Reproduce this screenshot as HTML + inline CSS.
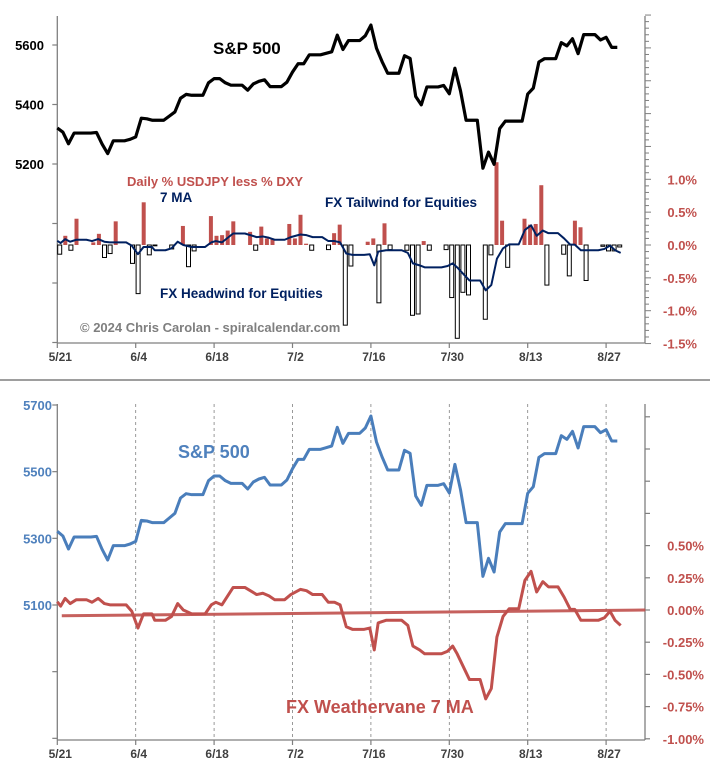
<!DOCTYPE html>
<html><head><meta charset="utf-8"><style>
html,body{margin:0;padding:0;background:#fff}
svg{display:block;font-family:"Liberation Sans",sans-serif}
</style></head><body>
<svg id="chart" width="710" height="777" viewBox="0 0 710 777">
<rect width="710" height="777" fill="#fff"/>
<g id="topPanel"></g><g id="botPanel"></g>
<line x1="0" y1="380" x2="710" y2="380" stroke="#7f7f7f" stroke-width="1.5"/>
<text x="213" y="54" font-size="17" font-weight="bold" fill="#000">S&amp;P 500</text>
<text x="127" y="186" font-size="13" font-weight="bold" fill="#c0504d">Daily % USDJPY less % DXY</text>
<text x="160" y="202" font-size="13.5" font-weight="bold" fill="#002060">7 MA</text>
<text x="325" y="207" font-size="13.5" font-weight="bold" fill="#002060">FX Tailwind for Equities</text>
<text x="160" y="298" font-size="13.5" font-weight="bold" fill="#002060">FX Headwind for Equities</text>
<text x="80" y="332" font-size="13" font-weight="bold" fill="#7f7f7f">© 2024 Chris Carolan - spiralcalendar.com</text>
<text x="178" y="458" font-size="18" font-weight="bold" fill="#4f81bd">S&amp;P 500</text>
<text x="286" y="713" font-size="18" font-weight="bold" fill="#c0504d">FX Weathervane 7 MA</text>
</svg>
<script>
const spxDays=[0,1,2,3,7,8,9,10,13,14,15,16,17,20,21,22,23,24,27,28,30,31,34,35,36,37,38,41,42,43,45,48,49,50,51,52,55,56,57,58,59,62,63,64,65,66,69,70,71,72,73,76,77,78,79,80,83,84,85,86,87,90,91,92,93,94,97,98,99,100];
const spxVals=[5321,5307,5268,5304,5306,5267,5235,5278,5283,5291,5354,5352,5347,5361,5375,5421,5434,5431,5473,5487,5473,5465,5448,5469,5478,5483,5460,5475,5509,5537,5567,5572,5577,5633,5585,5615,5631,5667,5589,5544,5505,5564,5555,5427,5399,5459,5464,5436,5522,5446,5347,5186,5240,5199,5319,5344,5344,5435,5455,5543,5554,5608,5597,5621,5571,5635,5617,5626,5592,5592];
const barDays=[0,1,2,3,6,7,8,9,10,13,14,15,16,17,20,22,23,24,27,28,29,30,31,34,35,36,37,38,41,42,43,44,45,48,49,50,51,52,55,56,57,58,59,62,63,64,65,66,69,70,71,72,73,76,77,78,79,80,83,84,85,86,87,90,91,92,93,94,97,98,99,100];
const barVals=[-0.14,0.14,-0.08,0.40,0.04,0.17,-0.19,-0.13,0.36,-0.28,-0.74,0.65,-0.15,-0.01,-0.06,0.29,-0.33,-0.09,0.44,0.14,0.15,0.22,0.36,0.20,-0.08,0.28,0.10,0.10,0.32,0.10,0.46,0.02,-0.08,-0.07,0.18,0.31,-1.22,-0.32,0.05,0.10,-0.88,0.33,-0.07,-0.08,-1.07,-1.05,0.06,-0.08,-0.07,-0.80,-1.42,-0.72,-0.76,-1.13,-0.15,1.26,0.37,-0.34,0.40,0.31,0.32,0.91,-0.61,-0.14,-0.47,0.37,0.27,-0.54,-0.02,-0.09,-0.09,-0.03];
const maDays=[0,0.6,1.4,2.3,3.4,5.2,6.2,7.3,8.4,9.4,12.3,13.3,14.4,15.4,16.9,17.4,19.3,20.4,21.5,22.5,24,26.4,27.5,28.3,29.4,31.4,33.5,35.6,36.7,37.8,38.8,40.6,41.7,43.4,44.5,45.6,47.3,48.4,49.5,50.5,51.6,52.7,54.8,55.8,56.6,57.3,58.7,61.5,62.6,63.5,64.7,65.6,68.6,69.7,70.6,71.4,72.5,73.6,75.5,76.5,77.5,78.5,79.6,80.7,82.4,83.5,84.6,85.6,86.7,87.7,89.4,90.5,91.6,92.4,93.5,96.6,97.7,98.7,99.6,100.6];
const maVals=[0.064,0.03,0.09,0.05,0.08,0.08,0.06,0.09,0.05,0.04,0.04,-0.01,-0.14,-0.03,-0.03,-0.08,-0.08,-0.05,0.05,0,-0.03,-0.03,0.04,0.06,0.04,0.175,0.175,0.12,0.13,0.11,0.08,0.08,0.12,0.16,0.15,0.12,0.12,0.06,0.06,0.04,-0.13,-0.15,-0.15,-0.14,-0.31,-0.10,-0.08,-0.08,-0.12,-0.28,-0.31,-0.34,-0.34,-0.32,-0.28,-0.34,-0.44,-0.54,-0.54,-0.69,-0.61,-0.21,-0.05,0.01,0.01,0.23,0.30,0.14,0.22,0.18,0.18,0.10,0.005,0.005,-0.08,-0.08,-0.06,-0.01,-0.08,-0.12];
const trendDays=[0.8,105];
const trendVals=[-0.045,0.0];
const xTickDays=[0,14,28,42,56,70,84,98];
const xTickLabels=["5/21","6/4","6/18","7/2","7/16","7/30","8/13","8/27"];
const topLeftTicks=[5600,5400,5200,5000,4800,4600];
const topLeftLabels=["5600","5400","5200"];
const topRightTicks=[1.0,0.5,0.0,-0.5,-1.0,-1.5];
const topRightLabels=["1.0%","0.5%","0.0%","-0.5%","-1.0%","-1.5%"];
const botLeftTicks=[5700,5500,5300,5100,4900,4700];
const botLeftLabels=["5700","5500","5300","5100"];
const botRightTicks=[1.5,1.25,1.0,0.75,0.5,0.25,0,-0.25,-0.5,-0.75,-1.0];
const botRightLabels=["0.50%","0.25%","0.00%","-0.25%","-0.50%","-0.75%","-1.00%"];
const botRightLabelVals=[0.5,0.25,0,-0.25,-0.5,-0.75,-1.0];

const NS="http://www.w3.org/2000/svg";
const X0=57.3,XR=645,DX=5.6;
const xD=d=>X0+d*DX;
const yTL=v=>45+(5600-v)*0.2975;
const yTR=p=>245-p*65.7;
const yBL=v=>405+(5700-v)/3;
const yBR=p=>610-p*128.8;
function el(parent,tag,attrs){const e=document.createElementNS(NS,tag);for(const k in attrs)e.setAttribute(k,attrs[k]);parent.appendChild(e);return e;}
function txt(parent,x,y,s,attrs){const t=el(parent,'text',Object.assign({x:x,y:y},attrs));t.textContent=s;return t;}
function stepPath(days,vals,fx,fy){let d='M'+fx(days[0])+','+fy(vals[0]);for(let i=1;i<days.length;i++){if(days[i]-days[i-1]>1){d+=' L'+fx(days[i]-1)+','+fy(vals[i-1]);}d+=' L'+fx(days[i])+','+fy(vals[i]);}return d;}
function linePath(days,vals,fx,fy){return days.map((d,i)=>(i?'L':'M')+fx(d)+','+fy(vals[i])).join(' ');}

const gTop=document.getElementById('topPanel'), gBot=document.getElementById('botPanel');

function axes(g,yTop,yBot,prefix){
  const a=el(g,'line',{x1:X0,y1:yTop,x2:X0,y2:yBot,stroke:'#7f7f7f','stroke-width':1.3});
  
  
  const b=el(g,'line',{x1:X0,y1:yBot,x2:XR,y2:yBot,stroke:'#7f7f7f','stroke-width':1.3});
  
  
  const c=el(g,'line',{x1:XR,y1:yTop,x2:XR,y2:yBot,stroke:'#7f7f7f','stroke-width':1.3});
  
  
  xTickDays.forEach((d,i)=>{
    el(g,'line',{x1:xD(d),y1:yBot,x2:xD(d),y2:yBot+5,stroke:'#7f7f7f','stroke-width':1.2});
    const t=txt(g,xD(d)+3,yBot+18,xTickLabels[i],{'font-size':12,'font-weight':'bold',fill:'#404040','text-anchor':'middle'});
    
    
  });
}
axes(gTop,16,343,'top');
axes(gBot,404,740,'bottom');

topLeftTicks.forEach(v=>el(gTop,'line',{x1:X0-5,y1:yTL(v),x2:X0,y2:yTL(v),stroke:'#7f7f7f','stroke-width':1.2}));
topLeftLabels.forEach(s=>{const t=txt(gTop,44,yTL(+s)+5,s,{'font-size':13,'font-weight':'bold',fill:'#000','text-anchor':'end'});
  
  });
for(let p=-1.5;p<=3.5001;p+=0.1){el(gTop,'line',{x1:XR,y1:yTR(p),x2:XR+(Math.abs(p*2-Math.round(p*2))<0.01?6:4),y2:yTR(p),stroke:'#7f7f7f','stroke-width':1});}
topRightTicks.forEach((p,i)=>{const t=txt(gTop,697,yTR(p)+5,topRightLabels[i],{'font-size':13,'font-weight':'bold',fill:'#c0504d','text-anchor':'end'});
  
  });

barDays.forEach((d,i)=>{
  const v=barVals[i], y0=yTR(0), y1=yTR(v);
  const r=el(gTop,'rect',{x:xD(d)+0.4,y:Math.min(y0,y1),width:4,height:Math.max(0.8,Math.abs(y1-y0)),fill:v>=0?'#c0504d':'#fff',stroke:v>=0?'none':'#000','stroke-width':1});
  
  
});
const ma1=el(gTop,'path',{d:linePath(maDays,maVals,xD,yTR),fill:'none',stroke:'#002060','stroke-width':2,'stroke-linejoin':'round'});


const s1=el(gTop,'path',{d:stepPath(spxDays,spxVals,xD,yTL),fill:'none',stroke:'#000','stroke-width':3.2,'stroke-linejoin':'round'});



xTickDays.slice(1).forEach(d=>{const l=el(gBot,'line',{x1:xD(d),y1:404,x2:xD(d),y2:740,stroke:'#808080','stroke-width':0.8,'stroke-dasharray':'3,3'});
  
  });
botLeftTicks.forEach(v=>el(gBot,'line',{x1:X0-5,y1:yBL(v),x2:X0,y2:yBL(v),stroke:'#7f7f7f','stroke-width':1.2}));
botLeftLabels.forEach(s=>{const t=txt(gBot,52,yBL(+s)+5,s,{'font-size':13,'font-weight':'bold',fill:'#4f81bd','text-anchor':'end'});
  
  });
botRightTicks.forEach(p=>el(gBot,'line',{x1:XR,y1:yBR(p),x2:XR+5,y2:yBR(p),stroke:'#7f7f7f','stroke-width':1.2}));
botRightLabelVals.forEach((p,i)=>{const t=txt(gBot,704,yBR(p)+5,botRightLabels[i],{'font-size':13,'font-weight':'bold',fill:'#c0504d','text-anchor':'end'});
  
  });
const tr=el(gBot,'path',{d:linePath(trendDays,trendVals,xD,yBR),fill:'none',stroke:'#c0504d','stroke-width':3,opacity:0.9});


const ma2=el(gBot,'path',{d:linePath(maDays,maVals,xD,yBR),fill:'none',stroke:'#c0504d','stroke-width':3,'stroke-linejoin':'round'});


const s2=el(gBot,'path',{d:stepPath(spxDays,spxVals,xD,yBL),fill:'none',stroke:'#4a7ebb','stroke-width':3,'stroke-linejoin':'round'});


</script>
</body></html>
